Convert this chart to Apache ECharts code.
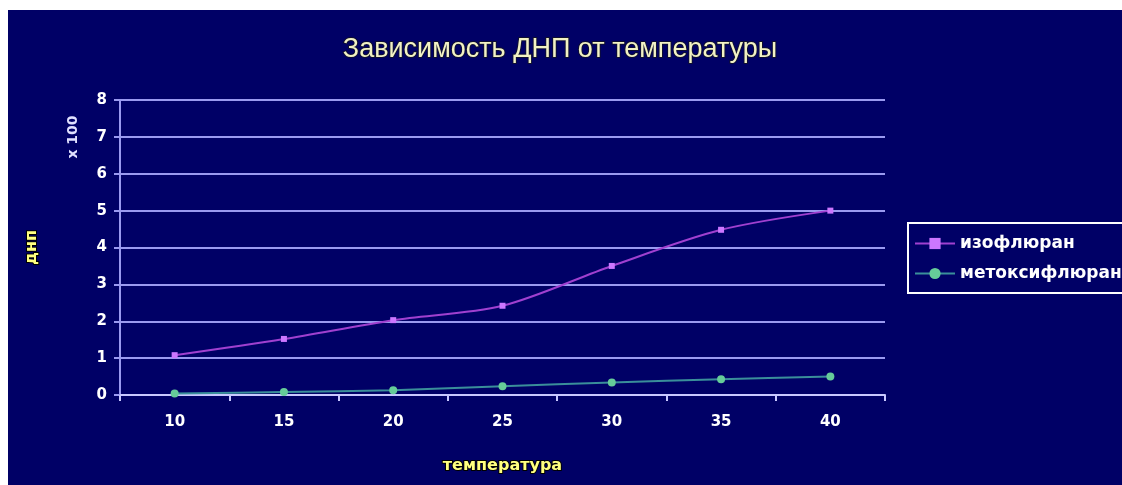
<!DOCTYPE html>
<html><head><meta charset="utf-8">
<script src="https://cdn.jsdelivr.net/npm/echarts@6/dist/echarts.min.js"></script>
<style>html,body{margin:0;padding:0;background:#fff;}#c{position:absolute;left:8px;top:10px;width:1114px;height:475px;background:#000066}</style>
</head><body><div id="c"></div><script>
const categories = ['10', '15', '20', '25', '30', '35', '40'];
const isoflurane = [1.08, 1.52, 2.03, 2.42, 3.5, 4.48, 5.0];
const methoxyflurane = [0.04, 0.08, 0.13, 0.24, 0.34, 0.43, 0.5];
const seriesNames = ['изофлюран', 'метоксифлюран'];
const titleText = 'Зависимость ДНП от температуры';

const grid = '#9a9af0';
const chart = echarts.init(document.getElementById('c'));
chart.setOption({
  backgroundColor: '#000066',
  animation: false,
  title: {
    text: titleText, left: 547, top: 21, textAlign: 'center',
    textStyle: { color: '#f2f2c4', fontSize: 27, fontWeight: 'normal', fontFamily: 'Liberation Sans',
      textBorderColor: '#101030', textBorderWidth: 2 }
  },
  grid: { left: 112, top: 90, right: 237, bottom: 90 },
  legend: {
    orient: 'vertical', left: 900, top: 213,
    data: seriesNames,
    borderColor: '#ffffff', borderWidth: 2,
    padding: [12, 60, 11, 6],
    itemWidth: 40, itemHeight: 14, itemGap: 13,
    textStyle: { color: '#ffffff', fontSize: 17, fontWeight: 'bold', fontFamily: 'DejaVu Sans' }
  },
  graphic: [{
    type: 'text', x: 65, y: 127, rotation: Math.PI / 2,
    style: { text: 'x 100', fill: '#e0e0ff', font: 'bold 14px DejaVu Sans', textAlign: 'center', textVerticalAlign: 'middle' }
  }],
  xAxis: {
    type: 'category', data: categories,
    axisLine: { lineStyle: { color: '#c8c8ff', width: 2 } },
    axisTick: { show: true, length: 6, lineStyle: { color: '#c8c8ff', width: 2 } },
    axisLabel: { color: '#ffffff', fontSize: 15, fontWeight: 'bold', fontFamily: 'DejaVu Sans', margin: 20 },
    name: 'температура', nameLocation: 'middle', nameGap: 63,
    nameTextStyle: { color: '#ffff80', fontSize: 16, fontWeight: 'bold', fontFamily: 'DejaVu Sans',
      textBorderColor: '#000', textBorderWidth: 2 }
  },
  yAxis: {
    type: 'value', min: 0, max: 8, interval: 1,
    axisLine: { show: true, lineStyle: { color: grid, width: 2 } },
    axisTick: { show: true, length: 6, lineStyle: { color: grid, width: 2 } },
    axisLabel: { color: '#ffffff', fontSize: 15, fontWeight: 'bold', fontFamily: 'DejaVu Sans', margin: 13 },
    splitLine: { lineStyle: { color: grid, width: 2 } },
    name: 'днп', nameLocation: 'middle', nameGap: 80,
    nameTextStyle: { color: '#ffff80', fontSize: 16, fontWeight: 'bold', fontFamily: 'DejaVu Sans',
      textBorderColor: '#000', textBorderWidth: 2 }
  },
  series: [{
    name: seriesNames[0], type: 'line', data: isoflurane, smooth: 0.3,
    symbol: 'rect', symbolSize: 6,
    lineStyle: { color: '#a040d0', width: 2 },
    itemStyle: { color: '#cc77ff' }
  }, {
    name: seriesNames[1], type: 'line', data: methoxyflurane, smooth: 0.3,
    symbol: 'circle', symbolSize: 8,
    lineStyle: { color: '#3a8f9a', width: 2 },
    itemStyle: { color: '#66cc99' }
  }]
});
</script></body></html>
